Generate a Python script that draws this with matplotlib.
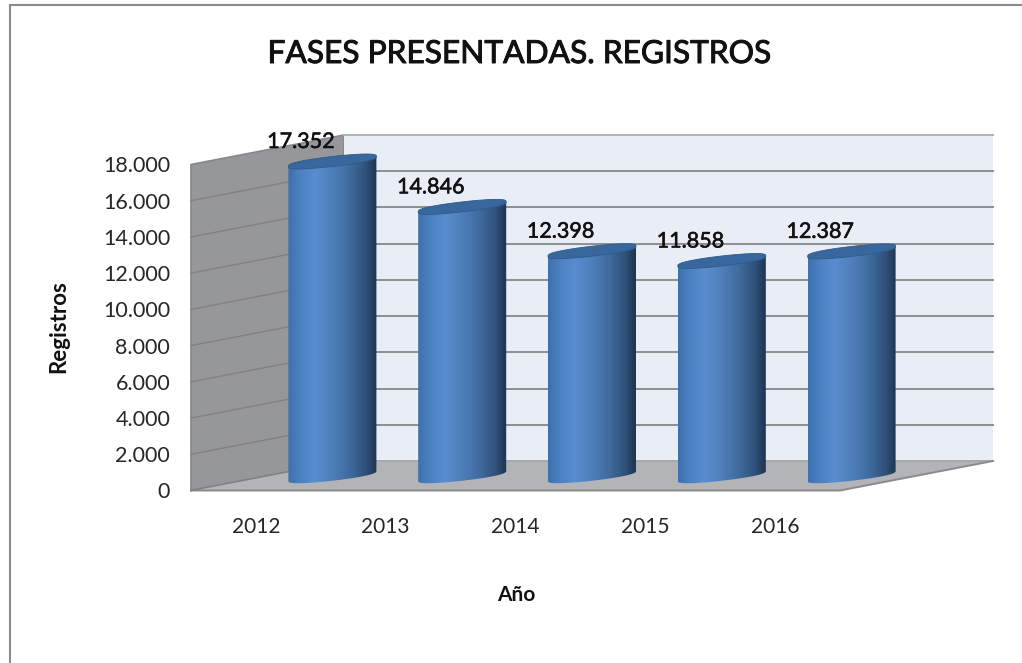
import numpy as np
import matplotlib
matplotlib.use("Agg")
import matplotlib.pyplot as plt
import matplotlib.patheffects as pe
from matplotlib.colors import LinearSegmentedColormap
from matplotlib.patches import Polygon
from matplotlib.lines import Line2D

plt.rcParams['font.family'] = ['Lato', 'DejaVu Sans']

# datos
years = ['2012', '2013', '2014', '2015', '2016']
registros = [17352, 14846, 12398, 11858, 12387]
etiquetas = ['17.352', '14.846', '12.398', '11.858', '12.387']
y_ticks = [0, 2000, 4000, 6000, 8000, 10000, 12000, 14000, 16000, 18000]
y_labels = ['0', '2.000', '4.000', '6.000', '8.000', '10.000', '12.000', '14.000', '16.000', '18.000']

W, H = 1022, 663
fig = plt.figure(figsize=(W / 100, H / 100), dpi=100, facecolor='white')

# plano frontal del grafico 3D
ax = fig.add_axes([191 / W, 1 - 490.5 / H, 649 / W, 326 / H])
ax.set_xlim(-0.5, 4.5)
ax.set_ylim(0, 18000)
ax.patch.set_visible(False)
for s in ax.spines.values():
    s.set_visible(False)

# profundidad en unidades de datos
DX = 153 / (649 / 5)
DY = 29.5 / (326 / 18000)
PX_X = 5 / 649
PX_Y = 18000 / 326
x0, x1 = -0.5, 4.5
ymax = y_ticks[-1]

# pared lateral, fondo y suelo
ax.add_patch(Polygon([(x0, 0), (x0 + DX, DY), (x0 + DX, ymax + DY), (x0, ymax)],
                     fc='#96979a', ec='#85878a', lw=1.2, clip_on=False, zorder=1))
ax.add_patch(Polygon([(x0 + DX, DY), (x1 + DX, DY), (x1 + DX, ymax + DY), (x0 + DX, ymax + DY)],
                     fc='#e9edf6', ec='none', clip_on=False, zorder=1))
ax.add_patch(Polygon([(x0, 0), (x0 + DX, DY), (x1 + DX, DY), (x1, 0)],
                     fc='#b2b4b8', ec='none', clip_on=False, zorder=2))

for t in y_ticks:
    col = '#a8a8a8' if t == 0 else '#8e8e8e'
    ax.plot([x0 + DX, x1 + DX], [t + DY, t + DY], color=col, lw=1.4, clip_on=False, zorder=2)
    if 0 < t < ymax:
        ax.plot([x0, x0 + DX], [t, t + DY], color='#83817c', lw=1.0, clip_on=False, zorder=2)
ax.plot([x0 + DX, x1 + DX], [ymax + DY, ymax + DY], color='#b4b4b4', lw=1.4, clip_on=False, zorder=2)
ax.plot([x0, x1, x1 + DX], [0, 0, DY], color='#8a8a8a', lw=1.4, clip_on=False, zorder=3)
ax.plot([x0, x0 + DX], [0, DY], color='#808080', lw=1.0, clip_on=False, zorder=3)

# cilindros
grad = LinearSegmentedColormap.from_list('cil', [
    (0.0, '#3d70ac'), (0.12, '#4a7fc0'), (0.3, '#5a8dd0'), (0.5, '#4e7fbb'),
    (0.72, '#3d6899'), (0.88, '#2f5079'), (1.0, '#1e3450')])
gradiente = np.linspace(0, 1, 256).reshape(1, -1)
rx = 44 * PX_X


def borde(t):
    # elipse inclinada, algo mas roma en los extremos
    s = np.sin(t)
    return rx * np.cos(t), (5 * np.cos(t) + 5 * np.sign(s) * np.abs(s) ** 0.7) * PX_Y


ang = np.linspace(0, 2 * np.pi, 300)
front = np.linspace(np.pi, 2 * np.pi, 120)

for i, v in enumerate(registros):
    cx = i + DX / 2
    base = DY / 2
    top = v + DY / 2

    ox, oy = borde(ang)
    bx, by = borde(front)
    verts = [(cx - rx, top - 5 * PX_Y)] + list(zip(cx + bx, base + by)) + [(cx + rx, top + 5 * PX_Y)]
    cuerpo = Polygon(verts, transform=ax.transData, fc='none', ec='none')
    ax.add_patch(cuerpo)
    im = ax.imshow(gradiente, cmap=grad, aspect='auto', zorder=5,
                   extent=(cx - rx, cx + rx, base - 10 * PX_Y, top + 10 * PX_Y))
    im.set_clip_path(cuerpo)
    im.set_clip_box(fig.bbox)

    ax.fill(cx + ox, top + oy, color='#38679d', ec='#2f5a8c', lw=0.6, zorder=6, clip_on=False)

    ax.text(cx - 31.5 * PX_X, top + 19.5 * PX_Y, etiquetas[i], fontsize=15.5, color='#111111',
            ha='center', va='center', zorder=7, clip_on=False,
            path_effects=[pe.withStroke(linewidth=0.4, foreground='#111111')])

ax.set_xlim(-0.5, 4.5)
ax.set_ylim(0, 18000)

# ejes
ax.set_xticks(range(len(years)))
ax.set_xticklabels(years, fontsize=15, color='#262626')
ax.set_yticks(y_ticks)
ax.set_yticklabels(y_labels, fontsize=15.5, color='#262626')
ax.tick_params(axis='x', length=0, pad=19)
ax.tick_params(axis='y', length=0, pad=15)

fig.text(516 / W, 1 - 595 / H, 'Año', fontsize=15, fontweight='bold', color='#111111', ha='center', va='center')
fig.text(59 / W, 1 - 327 / H, 'Registros', fontsize=16, fontweight='bold', color='#111111',
         rotation=90, ha='center', va='center')
fig.text(519 / W, 1 - 54 / H, 'FASES PRESENTADAS. REGISTROS', fontsize=22.8, color='#111111',
         ha='center', va='center', path_effects=[pe.withStroke(linewidth=0.7, foreground='#111111')])

# borde
fig.add_artist(Line2D([10 / W, 10 / W], [0, 1 - 5 / H], color='#8c8c8c', lw=1.5))
fig.add_artist(Line2D([10 / W, 1], [1 - 5 / H, 1 - 5 / H], color='#8c8c8c', lw=1.5))

fig.savefig('out.png', dpi=100, facecolor='white')
